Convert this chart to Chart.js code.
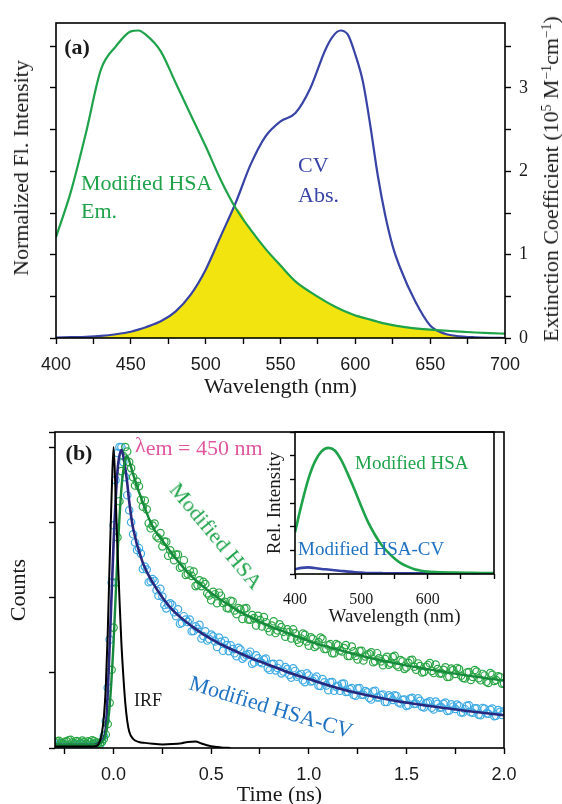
<!DOCTYPE html>
<html>
<head>
<meta charset="utf-8">
<title>Modified HSA / CV spectra and decays</title>
<script src="https://cdn.jsdelivr.net/npm/chart.js@4.4.1/dist/chart.umd.min.js"></script>
<style>
  html, body { margin: 0; padding: 0; background: #fff; }
  body { width: 562px; height: 804px; position: relative; overflow: hidden; font-family: 'Liberation Serif', 'Times New Roman', serif; color: #1a1a1a; }
  canvas { position: absolute; }
  #panelA { left: 0; top: 0; }
  #panelB { left: 0; top: 400px; }
  #inset { left: 250px; top: 425px; }
  .lbl { position: absolute; white-space: nowrap; line-height: 1; font-size: 22px; }
  .mid { transform: translateY(-50%); }
  .ctr { transform: translate(-50%, -50%); }
  .bold { font-weight: bold; }
  .green { color: #1fa34a; }
  .navy { color: #3843a6; }
  .sky { color: #1f72c2; }
  .pink { color: #e0579f; }
  .small { font-size: 19px; }
  sup { font-size: 0.62em; vertical-align: 0.55em; line-height: 0; }
</style>
</head>
<body>
<canvas id="panelA" width="562" height="400"></canvas>
<canvas id="panelB" width="562" height="410"></canvas>
<canvas id="inset" width="255" height="210"></canvas>

<!-- panel (a) labels -->
<div class="lbl ctr bold" style="left:77px; top:47px;">(a)</div>
<div class="lbl mid green" style="left:81px; top:183px;">Modified HSA</div>
<div class="lbl mid green" style="left:81px; top:211px;">Em.</div>
<div class="lbl mid navy" style="left:298px; top:165px;">CV</div>
<div class="lbl mid navy" style="left:298px; top:195px;">Abs.</div>
<div class="lbl" style="left:21px; top:168px; transform: translate(-50%, -50%) rotate(-90deg);">Normalized Fl. Intensity</div>
<div class="lbl" style="left:551px; top:179px; transform: translate(-50%, -50%) rotate(-90deg);">Extinction Coefficient (10<sup>5</sup> M<sup>&minus;1</sup>cm<sup>&minus;1</sup>)</div>

<!-- panel (b) labels -->
<div class="lbl ctr bold" style="left:79px; top:453px;">(b)</div>
<div class="lbl mid pink" style="left:135px; top:448px;"><span style="position:relative; top:-3px;">&lambda;</span>em = 450 nm</div>
<div class="lbl green" style="left:216px; top:536px; transform: translate(-50%, -50%) rotate(50deg);">Modified HSA</div>
<div class="lbl sky" style="left:271px; top:707px; transform: translate(-50%, -50%) rotate(17deg);">Modified HSA-CV</div>
<div class="lbl ctr" style="left:148px; top:700px; font-size:18px;">IRF</div>
<div class="lbl mid green small" style="left:355px; top:462px;">Modified HSA</div>
<div class="lbl mid sky small" style="left:298px; top:548px;">Modified HSA-CV</div>

<script>
// ---- panel (a): emission of modified HSA and CV absorption ----
const wavelengths = [400, 410, 420, 430, 440, 450, 455, 460, 470, 480, 490, 500, 510, 520, 530, 540, 550, 560, 570, 580,
                     585, 590, 595, 600, 605, 610, 615, 620, 625, 630, 640, 650, 660, 670, 680, 690, 700];
// emission, scaled onto the extinction axis
const emission = [1.21, 1.76, 2.46, 3.22, 3.50, 3.68, 3.69, 3.64, 3.44, 3.06, 2.68, 2.30, 1.90, 1.56, 1.30, 1.07, 0.87, 0.68, 0.55, 0.44,
                  0.39, 0.345, 0.305, 0.27, 0.245, 0.22, 0.195, 0.172, 0.155, 0.14, 0.115, 0.10, 0.088, 0.076, 0.066, 0.058, 0.052];
// extinction coefficient, 10^5 M^-1 cm^-1
const absorption = [0.005, 0.01, 0.015, 0.025, 0.045, 0.075, 0.10, 0.13, 0.20, 0.32, 0.52, 0.82, 1.22, 1.62, 2.08, 2.42, 2.60, 2.70, 3.00, 3.46,
                    3.62, 3.69, 3.64, 3.40, 3.08, 2.55, 1.95, 1.47, 1.10, 0.84, 0.44, 0.15, 0.05, 0.02, 0.008, 0.002, 0.0];
const extTickLabels = [0, 1, 2, 3];

// ---- panel (b): fluorescence decays at 450 nm ----
const decayTimes = [
  -0.30, -0.29, -0.28, -0.27, -0.26, -0.25, -0.24, -0.23, -0.22, -0.21, -0.20, -0.19, -0.18, -0.17, -0.16, -0.15, -0.14, -0.13,
  -0.12, -0.11, -0.10, -0.09, -0.08,
  -0.07, -0.06, -0.05, -0.04, -0.03, -0.02, -0.01, 0.00, 0.01, 0.02, 0.03, 0.04, 0.05, 0.06, 0.07, 0.08, 0.09, 0.10,
  0.11, 0.12, 0.13, 0.14, 0.15, 0.16, 0.17, 0.18, 0.19, 0.20,
  0.21, 0.22, 0.23, 0.24, 0.25, 0.26, 0.27, 0.28, 0.29, 0.30,
  0.31, 0.32, 0.33, 0.34, 0.35, 0.36, 0.37, 0.38, 0.39, 0.40,
  0.41, 0.42, 0.43, 0.44, 0.45, 0.46, 0.47, 0.48, 0.49, 0.50,
  0.51, 0.52, 0.53, 0.54, 0.55, 0.56, 0.57, 0.58, 0.59, 0.60,
  0.61, 0.62, 0.63, 0.64, 0.65, 0.66, 0.67, 0.68, 0.69, 0.70,
  0.71, 0.72, 0.73, 0.74, 0.75, 0.76, 0.77, 0.78, 0.79, 0.80,
  0.81, 0.82, 0.83, 0.84, 0.85, 0.86, 0.87, 0.88, 0.89, 0.90,
  0.91, 0.92, 0.93, 0.94, 0.95, 0.96, 0.97, 0.98, 0.99, 1.00,
  1.01, 1.02, 1.03, 1.04, 1.05, 1.06, 1.07, 1.08, 1.09, 1.10,
  1.11, 1.12, 1.13, 1.14, 1.15, 1.16, 1.17, 1.18, 1.19, 1.20,
  1.21, 1.22, 1.23, 1.24, 1.25, 1.26, 1.27, 1.28, 1.29, 1.30,
  1.31, 1.32, 1.33, 1.34, 1.35, 1.36, 1.37, 1.38, 1.39, 1.40,
  1.41, 1.42, 1.43, 1.44, 1.45, 1.46, 1.47, 1.48, 1.49, 1.50,
  1.51, 1.52, 1.53, 1.54, 1.55, 1.56, 1.57, 1.58, 1.59, 1.60,
  1.61, 1.62, 1.63, 1.64, 1.65, 1.66, 1.67, 1.68, 1.69, 1.70,
  1.71, 1.72, 1.73, 1.74, 1.75, 1.76, 1.77, 1.78, 1.79, 1.80,
  1.81, 1.82, 1.83, 1.84, 1.85, 1.86, 1.87, 1.88, 1.89, 1.90,
  1.91, 1.92, 1.93, 1.94, 1.95, 1.96, 1.97, 1.98, 1.99, 2.00];
const hsaCounts = [
  0.018, 0.022, 0.024, 0.017, 0.015, 0.021, 0.022, 0.026, 0.027, 0.019, 0.016, 0.023, 0.021, 0.017, 0.025, 0.020, 0.014, 0.022,
  0.020, 0.026, 0.023, 0.018, 0.017,
  0.015, 0.020, 0.030, 0.045, 0.080, 0.150, 0.260, 0.400, 0.550, 0.700, 0.820, 0.920, 0.970, 1.000, 0.985, 0.950, 0.930, 0.900,
  0.872, 0.885, 0.870, 0.825, 0.802, 0.822, 0.793, 0.747, 0.730, 0.739,
  0.746, 0.703, 0.697, 0.714, 0.670, 0.686, 0.685, 0.639, 0.657, 0.642,
  0.624, 0.643, 0.643, 0.599, 0.602, 0.624, 0.575, 0.578, 0.590, 0.572,
  0.586, 0.538, 0.542, 0.557, 0.538, 0.552, 0.545, 0.514, 0.507, 0.491,
  0.519, 0.511, 0.481, 0.516, 0.506, 0.482, 0.486, 0.465, 0.464, 0.489,
  0.487, 0.457, 0.445, 0.465, 0.460, 0.429, 0.463, 0.465, 0.427, 0.426,
  0.442, 0.432, 0.407, 0.439, 0.425, 0.404, 0.435, 0.418, 0.399, 0.387,
  0.407, 0.421, 0.382, 0.391, 0.411, 0.402, 0.386, 0.370, 0.394, 0.385,
  0.364, 0.394, 0.381, 0.360, 0.350, 0.364, 0.380, 0.376, 0.354, 0.340,
  0.368, 0.363, 0.336, 0.341, 0.352, 0.367, 0.362, 0.329, 0.329, 0.341,
  0.345, 0.315, 0.315, 0.345, 0.341, 0.324, 0.321, 0.332, 0.342, 0.306,
  0.306, 0.337, 0.321, 0.306, 0.294, 0.322, 0.323, 0.291, 0.304, 0.310,
  0.313, 0.318, 0.285, 0.288, 0.315, 0.298, 0.288, 0.275, 0.296, 0.303,
  0.277, 0.282, 0.302, 0.306, 0.275, 0.269, 0.292, 0.288, 0.263, 0.268,
  0.283, 0.291, 0.293, 0.270, 0.260, 0.281, 0.272, 0.251, 0.253, 0.270,
  0.276, 0.282, 0.256, 0.249, 0.277, 0.262, 0.248, 0.248, 0.260, 0.268,
  0.236, 0.237, 0.264, 0.259, 0.246, 0.266, 0.262, 0.240, 0.233, 0.231,
  0.251, 0.252, 0.226, 0.236, 0.259, 0.254, 0.232, 0.225, 0.246, 0.241,
  0.220, 0.216, 0.249, 0.243, 0.223, 0.226, 0.238, 0.236, 0.214, 0.215];
const hsaCvCounts = [
  0.012, 0.009, 0.008, 0.013, 0.015, 0.010, 0.010, 0.007, 0.006, 0.011, 0.013, 0.009, 0.009, 0.014, 0.014, 0.010, 0.011, 0.008,
  0.007, 0.012, 0.012, 0.016, 0.015,
  0.010, 0.020, 0.040, 0.090, 0.200, 0.360, 0.550, 0.740, 0.890, 0.980, 1.000, 1.000, 0.950, 0.900, 0.840, 0.790, 0.750, 0.710,
  0.683, 0.658, 0.664, 0.646, 0.595, 0.603, 0.593, 0.551, 0.554, 0.561,
  0.555, 0.524, 0.506, 0.529, 0.503, 0.475, 0.464, 0.477, 0.481, 0.476,
  0.451, 0.438, 0.461, 0.413, 0.416, 0.438, 0.427, 0.419, 0.427, 0.388,
  0.389, 0.404, 0.396, 0.409, 0.364, 0.372, 0.388, 0.357, 0.362, 0.377,
  0.371, 0.354, 0.336, 0.367, 0.353, 0.323, 0.356, 0.342, 0.322, 0.341,
  0.329, 0.315, 0.305, 0.333, 0.327, 0.297, 0.303, 0.309, 0.312, 0.320,
  0.280, 0.284, 0.308, 0.298, 0.286, 0.282, 0.294, 0.297, 0.265, 0.259,
  0.279, 0.280, 0.258, 0.266, 0.280, 0.248, 0.254, 0.269, 0.262, 0.243,
  0.234, 0.265, 0.256, 0.237, 0.242, 0.246, 0.225, 0.219, 0.248, 0.241,
  0.221, 0.223, 0.231, 0.237, 0.207, 0.206, 0.229, 0.218, 0.208, 0.192,
  0.218, 0.219, 0.190, 0.204, 0.207, 0.190, 0.213, 0.214, 0.186, 0.187,
  0.196, 0.199, 0.176, 0.174, 0.198, 0.199, 0.177, 0.177, 0.189, 0.185,
  0.166, 0.161, 0.188, 0.190, 0.168, 0.168, 0.176, 0.178, 0.153, 0.153,
  0.175, 0.169, 0.160, 0.175, 0.173, 0.151, 0.148, 0.160, 0.161, 0.140,
  0.142, 0.164, 0.167, 0.146, 0.147, 0.165, 0.157, 0.137, 0.135, 0.149,
  0.151, 0.155, 0.134, 0.128, 0.154, 0.147, 0.134, 0.135, 0.147, 0.151,
  0.123, 0.125, 0.145, 0.138, 0.130, 0.144, 0.139, 0.118, 0.118, 0.129,
  0.140, 0.142, 0.119, 0.117, 0.132, 0.132, 0.111, 0.109, 0.133, 0.131,
  0.115, 0.114, 0.127, 0.131, 0.106, 0.107, 0.126, 0.120, 0.110, 0.122];

const fitTimes = [-0.30, -0.10, -0.08, -0.06, -0.04, -0.02, 0.00, 0.02, 0.04, 0.06, 0.07, 0.08, 0.10, 0.15, 0.20, 0.25, 0.30,
                  0.40, 0.50, 0.60, 0.70, 0.80, 0.90, 1.00, 1.20, 1.40, 1.60, 1.80, 2.00];
const hsaFit = [0.010, 0.010, 0.012, 0.020, 0.045, 0.140, 0.350, 0.640, 0.860, 0.960, 0.970, 0.955, 0.910, 0.815, 0.735, 0.690, 0.645,
                0.570, 0.515, 0.471, 0.435, 0.405, 0.380, 0.355, 0.318, 0.287, 0.263, 0.242, 0.224];
const hsaCvFit = [0.010, 0.010, 0.015, 0.025, 0.065, 0.340, 0.680, 0.920, 0.990, 0.930, 0.880, 0.820, 0.730, 0.615, 0.550, 0.500, 0.460,
                  0.405, 0.362, 0.329, 0.300, 0.275, 0.250, 0.229, 0.190, 0.162, 0.141, 0.124, 0.109];

const irfTimes = [-0.30, -0.10, -0.08, -0.06, -0.05, -0.04, -0.03, -0.02, -0.01, 0.00, 0.01, 0.02, 0.03, 0.04, 0.05, 0.06, 0.07,
                  0.08, 0.10, 0.13, 0.16, 0.20, 0.25, 0.30, 0.35, 0.38, 0.42, 0.45, 0.50, 0.55, 0.60];
const irfCounts = [0.005, 0.005, 0.010, 0.050, 0.100, 0.200, 0.380, 0.620, 0.840, 1.000, 0.850, 0.660, 0.500, 0.350, 0.240, 0.150, 0.090,
                   0.055, 0.030, 0.020, 0.017, 0.014, 0.012, 0.013, 0.016, 0.020, 0.022, 0.015, 0.006, 0.002, 0.000];

// ---- inset: steady-state emission ----
const insetWl = [400, 410, 420, 430, 440, 450, 460, 470, 480, 490, 500, 510, 520, 530, 540, 550, 560, 570, 580, 590, 600,
                 620, 640, 660, 680, 700];
const insetHsa = [1.76, 2.95, 4.00, 4.75, 5.18, 5.33, 5.22, 4.80, 4.20, 3.55, 2.85, 2.20, 1.68, 1.25, 0.92, 0.66, 0.45, 0.31, 0.20, 0.14, 0.10,
                  0.07, 0.06, 0.05, 0.04, 0.035];
const insetHsaCv = [0.20, 0.26, 0.28, 0.25, 0.21, 0.19, 0.16, 0.13, 0.10, 0.075, 0.06, 0.045, 0.04, 0.035, 0.03, 0.03, 0.03, 0.03, 0.03, 0.03, 0.03,
                    0.03, 0.03, 0.03, 0.03, 0.03];

const GREEN = '#1fa34a';
const ABS_BLUE = '#3843a6';
const NAVY = '#28287e';
const SKY = '#3fabe4';
const YELLOW = '#f1e40f';
const SERIF = "'Liberation Serif', 'Times New Roman', serif";
const SANS = "'Liberation Sans', Arial, sans-serif";

Chart.defaults.font.family = SERIF;
Chart.defaults.color = '#1a1a1a';

function pts(xs, ys) {
    return xs.map((x, i) => ({ x: x, y: ys[i] }));
}

// black box round the plotting area
const framePlugin = {
    id: 'frame',
    afterDraw(chart) {
        const { ctx, chartArea: a } = chart;
        ctx.save();
        ctx.strokeStyle = '#000';
        ctx.lineWidth = 1.6;
        ctx.strokeRect(a.left, a.top, a.right - a.left, a.bottom - a.top);
        ctx.restore();
    }
};

// outward tick marks only, no grid lines
function tickGrid(len) {
    return { display: true, drawOnChartArea: false, drawTicks: true, tickLength: len, tickColor: '#000', tickWidth: 1.4 };
}

const baseOptions = {
    responsive: false,
    animation: false,
    events: [],
    plugins: { legend: { display: false }, tooltip: { enabled: false } }
};

// Panel (a)
const overlap = wavelengths.map((w, i) => Math.min(emission[i], absorption[i]));

new Chart(document.getElementById('panelA'), {
    type: 'scatter',
    data: {
        datasets: [
            { data: pts(wavelengths, emission), showLine: true, borderColor: GREEN, borderWidth: 2.2, pointRadius: 0,
              cubicInterpolationMode: 'monotone', order: 1 },
            { data: pts(wavelengths, absorption), showLine: true, borderColor: ABS_BLUE, borderWidth: 2.2, pointRadius: 0,
              cubicInterpolationMode: 'monotone', order: 2 },
            { data: pts(wavelengths, overlap), showLine: true, borderWidth: 0, borderColor: 'rgba(0,0,0,0)',
              backgroundColor: YELLOW, fill: 'origin', pointRadius: 0, cubicInterpolationMode: 'monotone', order: 3 }
        ]
    },
    options: Object.assign({}, baseOptions, {
        layout: { padding: { top: 23, left: 0, right: 0, bottom: 0 } },
        scales: {
            x: {
                type: 'linear', min: 400, max: 700,
                grid: tickGrid(6), border: { display: false },
                ticks: { stepSize: 25, autoSkip: false, maxRotation: 0, padding: 10, color: '#1a1a1a',
                         font: { family: SANS, size: 18 },
                         callback: v => (v % 50 === 0 ? String(v) : '') },
                title: { display: true, text: 'Wavelength (nm)', color: '#1a1a1a',
                         font: { family: SERIF, size: 22, lineHeight: 1 }, padding: { top: 0, bottom: 2 } },
                afterFit: s => { s.height = 62; }
            },
            y: {
                position: 'left', min: 0, max: 3.78,
                grid: tickGrid(6), border: { display: false },
                ticks: { display: false, stepSize: 0.5, includeBounds: false },
                afterFit: s => { s.width = 56; }
            },
            y1: {
                position: 'right', min: 0, max: 3.78,
                grid: tickGrid(6), border: { display: false },
                ticks: { stepSize: 0.5, includeBounds: false, padding: 8, color: '#1a1a1a',
                         font: { family: SERIF, size: 18 },
                         callback: v => (extTickLabels.includes(v) ? String(v) : '') },
                afterFit: s => { s.width = 57; }
            }
        }
    }),
    plugins: [framePlugin]
});

// Panel (b)
new Chart(document.getElementById('panelB'), {
    type: 'scatter',
    data: {
        datasets: [
            { data: pts(irfTimes, irfCounts), showLine: true, borderColor: '#000', borderWidth: 2, pointRadius: 0,
              cubicInterpolationMode: 'monotone', order: 0 },
            { data: pts(fitTimes, hsaFit), showLine: true, borderColor: '#178a3c', borderWidth: 2.4, pointRadius: 0,
              cubicInterpolationMode: 'monotone', order: 1 },
            { data: pts(fitTimes, hsaCvFit), showLine: true, borderColor: NAVY, borderWidth: 2.6, pointRadius: 0,
              cubicInterpolationMode: 'monotone', order: 2 },
            { data: pts(decayTimes, hsaCounts), showLine: false, pointStyle: 'circle', pointRadius: 3.7,
              borderColor: '#2aa646', borderWidth: 1.2, backgroundColor: 'rgba(255,255,255,0)', order: 3 },
            { data: pts(decayTimes, hsaCvCounts), showLine: false, pointStyle: 'circle', pointRadius: 3.7,
              borderColor: SKY, borderWidth: 1.2, backgroundColor: 'rgba(255,255,255,0)', order: 4 }
        ]
    },
    options: Object.assign({}, baseOptions, {
        layout: { padding: { top: 32, left: 0, right: 58, bottom: 0 } },
        scales: {
            x: {
                type: 'linear', min: -0.3, max: 2.0,
                grid: tickGrid(6), border: { display: false },
                ticks: { stepSize: 0.25, includeBounds: false, autoSkip: false, maxRotation: 0, padding: 10, color: '#1a1a1a',
                         font: { family: SANS, size: 18 },
                         callback: v => (v >= 0 && Math.abs(v * 2 - Math.round(v * 2)) < 1e-9 ? v.toFixed(1) : '') },
                title: { display: true, text: 'Time (ns)', color: '#1a1a1a',
                         font: { family: SERIF, size: 22, lineHeight: 1 }, padding: { top: 0, bottom: 4 } },
                afterFit: s => { s.height = 62; }
            },
            y: {
                position: 'left', min: 0, max: 1.05,
                grid: tickGrid(6), border: { display: false },
                ticks: { display: false, stepSize: 0.25 },
                title: { display: true, text: 'Counts', color: '#1a1a1a',
                         font: { family: SERIF, size: 22, lineHeight: 1 }, padding: { top: 8, bottom: 0 } },
                afterFit: s => { s.width = 55; }
            }
        }
    }),
    plugins: [framePlugin]
});

// Inset
new Chart(document.getElementById('inset'), {
    type: 'scatter',
    data: {
        datasets: [
            { data: pts(insetWl, insetHsa), showLine: true, borderColor: GREEN, borderWidth: 2.6, pointRadius: 0,
              cubicInterpolationMode: 'monotone' },
            { data: pts(insetWl, insetHsaCv), showLine: true, borderColor: ABS_BLUE, borderWidth: 2.6, pointRadius: 0,
              cubicInterpolationMode: 'monotone' }
        ]
    },
    options: Object.assign({}, baseOptions, {
        layout: { padding: { top: 7, left: 0, right: 1, bottom: 0 } },
        scales: {
            x: {
                type: 'linear', min: 400, max: 700,
                grid: tickGrid(5), border: { display: false },
                ticks: { stepSize: 50, includeBounds: false, autoSkip: false, maxRotation: 0, padding: 11, color: '#1a1a1a',
                         font: { family: SERIF, size: 16 },
                         callback: v => (v < 700 && v % 100 === 0 ? String(v) : '') },
                title: { display: true, text: 'Wavelength (nm)', color: '#1a1a1a',
                         font: { family: SERIF, size: 19, lineHeight: 1 }, padding: { top: 0, bottom: 8 } },
                afterFit: s => { s.height = 61; }
            },
            y: {
                position: 'left', min: 0, max: 6,
                grid: tickGrid(5), border: { display: false },
                ticks: { display: false, stepSize: 1 },
                title: { display: true, text: 'Rel. Intensity', color: '#1a1a1a',
                         font: { family: SERIF, size: 19, lineHeight: 1 }, padding: { top: 16, bottom: 0 } },
                afterFit: s => { s.width = 45; }
            }
        }
    }),
    plugins: [framePlugin]
});
</script>
</body>
</html>
